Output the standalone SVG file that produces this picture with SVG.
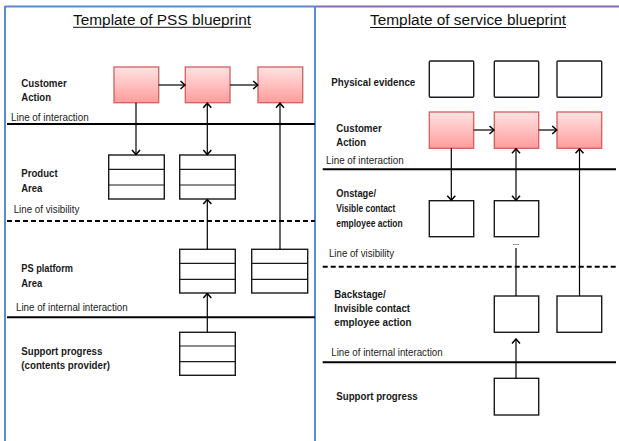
<svg xmlns="http://www.w3.org/2000/svg" width="619" height="441" viewBox="0 0 619 441">
<defs>
<linearGradient id="pinkGrad" x1="0" y1="0" x2="0" y2="1">
<stop offset="0" stop-color="#ffe3e3"/>
<stop offset="1" stop-color="#ff9c9c"/>
</linearGradient>
<marker id="arr" markerUnits="userSpaceOnUse" markerWidth="10" markerHeight="10" viewBox="0 0 10 10" refX="9" refY="5" orient="auto-start-reverse">
<path d="M4.5,1 L9,5 L4.5,9" fill="none" stroke="#000" stroke-width="1.5"/>
</marker>
<style>
.title{font-family:"Liberation Sans",Arial,sans-serif;font-size:15.3px;fill:#111}
.lbl{font-family:"Liberation Sans",Arial,sans-serif;font-size:11px;fill:#222}
.blbl{font-family:"Liberation Sans",Arial,sans-serif;font-size:11.5px;font-weight:bold;fill:#1a1a1a}
.pink{fill:url(#pinkGrad);stroke:#d45f5f;stroke-width:1.3}
.box{fill:#fff;stroke:#1a1a1a;stroke-width:1.4}
.row{stroke:#1a1a1a;stroke-width:1.2}
.solid{stroke:#000;stroke-width:2}
.dash{stroke:#000;stroke-width:2;stroke-dasharray:5,3}
.conn{stroke:#000;stroke-width:1.2;fill:none}
</style>
</defs>
<rect width="619" height="441" fill="#fff"/>

<!-- panel frames -->
<line x1="316" y1="6.5" x2="619" y2="6.5" stroke="#8a6bb0" stroke-width="2"/>
<line x1="5" y1="6.5" x2="316" y2="6.5" stroke="#5a8bd0" stroke-width="2"/>
<line x1="5" y1="6" x2="5" y2="441" stroke="#5a8bd0" stroke-width="2"/>
<line x1="315" y1="6" x2="315" y2="441" stroke="#5a8bd0" stroke-width="2"/>

<!-- titles -->
<text class="title" x="73" y="24.5" textLength="178" lengthAdjust="spacingAndGlyphs">Template of PSS blueprint</text>
<line x1="73" y1="27.3" x2="251" y2="27.3" stroke="#111" stroke-width="1"/>
<text class="title" x="370" y="24.5" textLength="196" lengthAdjust="spacingAndGlyphs">Template of service blueprint</text>
<line x1="370" y1="27.5" x2="566" y2="27.5" stroke="#111" stroke-width="1"/>

<!-- left lane lines -->
<line class="solid" x1="7" y1="124" x2="315" y2="124"/>
<line class="dash" x1="7" y1="221" x2="315" y2="221"/>
<line class="solid" x1="7" y1="317.3" x2="315" y2="317.3"/>

<!-- right lane lines -->
<line class="solid" x1="322.7" y1="169.3" x2="616" y2="169.3"/>
<line class="dash" x1="322.7" y1="266.7" x2="616" y2="266.7"/>
<line class="solid" x1="322.7" y1="362.3" x2="616" y2="362.3"/>

<!-- left lane labels -->
<text class="blbl" x="21.3" y="87" textLength="45.4" lengthAdjust="spacingAndGlyphs">Customer</text>
<text class="blbl" x="21.3" y="101" textLength="29.7" lengthAdjust="spacingAndGlyphs">Action</text>
<text class="lbl" x="11" y="121" textLength="77.7" lengthAdjust="spacingAndGlyphs">Line of interaction</text>
<text class="blbl" x="21.3" y="177.3" textLength="36.3" lengthAdjust="spacingAndGlyphs">Product</text>
<text class="blbl" x="21.3" y="191.7" textLength="21" lengthAdjust="spacingAndGlyphs">Area</text>
<text class="lbl" x="13.7" y="213.3" textLength="65.7" lengthAdjust="spacingAndGlyphs">Line of visibility</text>
<text class="blbl" x="21.3" y="271.7" textLength="51.7" lengthAdjust="spacingAndGlyphs">PS platform</text>
<text class="blbl" x="21.3" y="286.7" textLength="21" lengthAdjust="spacingAndGlyphs">Area</text>
<text class="lbl" x="16" y="310.7" textLength="111.7" lengthAdjust="spacingAndGlyphs">Line of internal interaction</text>
<text class="blbl" x="21.3" y="355" textLength="81" lengthAdjust="spacingAndGlyphs">Support progress</text>
<text class="blbl" x="21.3" y="369" textLength="88.7" lengthAdjust="spacingAndGlyphs">(contents provider)</text>

<!-- right lane labels -->
<text class="blbl" x="331.3" y="86" textLength="84" lengthAdjust="spacingAndGlyphs">Physical evidence</text>
<text class="blbl" x="336.3" y="131.7" textLength="45.4" lengthAdjust="spacingAndGlyphs">Customer</text>
<text class="blbl" x="336.3" y="145.5" textLength="29.7" lengthAdjust="spacingAndGlyphs">Action</text>
<text class="lbl" x="326" y="164" textLength="77.7" lengthAdjust="spacingAndGlyphs">Line of interaction</text>
<text class="blbl" x="336.3" y="197.3" textLength="39.7" lengthAdjust="spacingAndGlyphs">Onstage/</text>
<text class="blbl" x="336.3" y="212.3" textLength="59" lengthAdjust="spacingAndGlyphs">Visible contact</text>
<text class="blbl" x="336.3" y="227" textLength="66.4" lengthAdjust="spacingAndGlyphs">employee action</text>
<text class="lbl" x="329" y="257.3" textLength="65" lengthAdjust="spacingAndGlyphs">Line of visibility</text>
<text class="blbl" x="334.3" y="297.5" textLength="51.4" lengthAdjust="spacingAndGlyphs">Backstage/</text>
<text class="blbl" x="334.3" y="312.3" textLength="75.7" lengthAdjust="spacingAndGlyphs">Invisible contact</text>
<text class="blbl" x="334.3" y="326.3" textLength="77.3" lengthAdjust="spacingAndGlyphs">employee action</text>
<text class="lbl" x="331.3" y="356" textLength="111.3" lengthAdjust="spacingAndGlyphs">Line of internal interaction</text>
<text class="blbl" x="336.3" y="400" textLength="81.4" lengthAdjust="spacingAndGlyphs">Support progress</text>

<!-- left nodes -->
<g id="pss-customer-1"><rect class="pink" x="114" y="67" width="44.7" height="35.7"/></g>
<g id="pss-customer-2"><rect class="pink" x="185.3" y="67" width="44.7" height="35.7"/></g>
<g id="pss-customer-3"><rect class="pink" x="258" y="67" width="44.7" height="35.7"/></g>
<g id="pss-product-1">
<rect class="box" x="108.7" y="155" width="55.6" height="44"/>
<line class="row" x1="108.7" y1="169.3" x2="164.3" y2="169.3"/>
<line class="row" x1="108.7" y1="185" x2="164.3" y2="185"/>
</g>
<g id="pss-product-2">
<rect class="box" x="179.7" y="155" width="55.6" height="44"/>
<line class="row" x1="179.7" y1="169.3" x2="235.3" y2="169.3"/>
<line class="row" x1="179.7" y1="185" x2="235.3" y2="185"/>
</g>
<g id="pss-platform-1">
<rect class="box" x="179.7" y="249.3" width="55.6" height="43.7"/>
<line class="row" x1="179.7" y1="263.3" x2="235.3" y2="263.3"/>
<line class="row" x1="179.7" y1="279.3" x2="235.3" y2="279.3"/>
</g>
<g id="pss-platform-2">
<rect class="box" x="251.7" y="249.3" width="56" height="43.7"/>
<line class="row" x1="251.7" y1="263.3" x2="307.7" y2="263.3"/>
<line class="row" x1="251.7" y1="279.3" x2="307.7" y2="279.3"/>
</g>
<g id="pss-support">
<rect class="box" x="179.7" y="332.3" width="55.6" height="43"/>
<line class="row" x1="179.7" y1="346" x2="235.3" y2="346"/>
<line class="row" x1="179.7" y1="361.7" x2="235.3" y2="361.7"/>
</g>

<!-- right nodes -->
<g id="sb-evidence-1"><rect class="box" x="429.3" y="61" width="44.4" height="36.3" rx="1"/></g>
<g id="sb-evidence-2"><rect class="box" x="494.3" y="61" width="44.4" height="36.3" rx="1"/></g>
<g id="sb-evidence-3"><rect class="box" x="557" y="61" width="44.7" height="36.3" rx="1"/></g>
<g id="sb-customer-1"><rect class="pink" x="429.3" y="112" width="44.4" height="36.3"/></g>
<g id="sb-customer-2"><rect class="pink" x="494.3" y="112" width="44.4" height="36.3"/></g>
<g id="sb-customer-3"><rect class="pink" x="557" y="112" width="44.7" height="36.3"/></g>
<g id="sb-onstage-1"><rect class="box" x="429.3" y="200.7" width="44.4" height="36"/></g>
<g id="sb-onstage-2"><rect class="box" x="494.3" y="200.7" width="44.4" height="36"/></g>
<g id="sb-backstage-1"><rect class="box" x="494.3" y="296" width="44.4" height="36.3"/></g>
<g id="sb-backstage-2"><rect class="box" x="557" y="296" width="44.7" height="36.3"/></g>
<g id="sb-support"><rect class="box" x="494.3" y="378.3" width="44.4" height="36.7"/></g>

<!-- connectors -->
<g id="connectors">
<line class="conn" x1="158.7" y1="85" x2="185" y2="85" marker-end="url(#arr)"/>
<line class="conn" x1="230" y1="85" x2="257.7" y2="85" marker-end="url(#arr)"/>
<line class="conn" x1="136" y1="102.7" x2="136" y2="154.5" marker-end="url(#arr)"/>
<line class="conn" x1="207.3" y1="103.2" x2="207.3" y2="154.5" marker-start="url(#arr)" marker-end="url(#arr)"/>
<line class="conn" x1="280" y1="249.3" x2="280" y2="103.2" marker-end="url(#arr)"/>
<line class="conn" x1="207.3" y1="249.3" x2="207.3" y2="199.5" marker-end="url(#arr)"/>
<line class="conn" x1="207.3" y1="332.3" x2="207.3" y2="293.5" marker-end="url(#arr)"/>

<line class="conn" x1="473.7" y1="130" x2="494" y2="130" marker-end="url(#arr)"/>
<line class="conn" x1="538.7" y1="130" x2="556.7" y2="130" marker-end="url(#arr)"/>
<line class="conn" x1="451.3" y1="148.3" x2="451.3" y2="200.2" marker-end="url(#arr)"/>
<line class="conn" x1="516" y1="148.8" x2="516" y2="200.2" marker-start="url(#arr)" marker-end="url(#arr)"/>
<line class="conn" x1="579.5" y1="296" x2="579.5" y2="148.8" marker-end="url(#arr)"/>
<line class="conn" x1="516" y1="296" x2="516" y2="248" stroke="#555"/>
<path d="M513.3,244.5 h1.2 M515.5,244.5 h1 M517.5,244.5 h1.2" stroke="#444" stroke-width="1"/>
<line class="conn" x1="516" y1="378.3" x2="516" y2="339" marker-end="url(#arr)"/>
</g>
</svg>
